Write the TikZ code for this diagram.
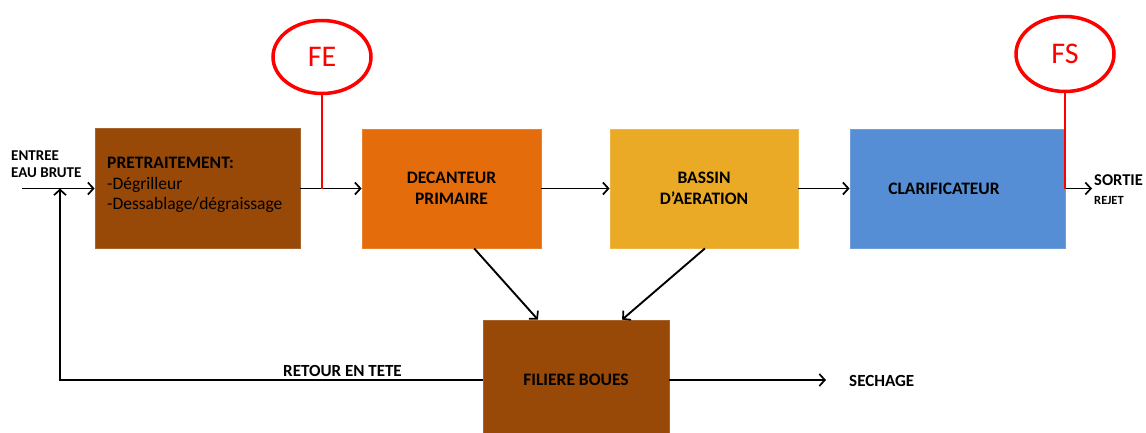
\documentclass[tikz,border=0pt]{standalone}
\usepackage{fontspec}
\setmainfont{Carlito}
\usetikzlibrary{arrows.meta,shapes.geometric,calc}
\definecolor{cbrown}{HTML}{984807}
\definecolor{corange}{HTML}{E46C0A}
\definecolor{cgold}{HTML}{EAAA26}
\definecolor{cblue}{HTML}{558ED5}
\definecolor{cred}{HTML}{FF0000}
\tikzset{
  procbox/.style={draw=#1!85!white, fill=#1, line width=0.8pt, inner sep=0pt, font=\fontsize{17.5}{20.5}\selectfont\bfseries, align=center},
  arr/.style={line width=1.9pt, -{Straight Barb[length=5.5pt,width=12pt,line width=1.7pt]}},
  flow/.style={draw=cred, line width=3.5pt, ellipse, inner sep=0pt, text=cred, font=\fontsize{30}{34}\selectfont},
  redline/.style={draw=cred, line width=2pt},
  lbl/.style={font=\fontsize{17}{20}\selectfont\bfseries, inner sep=0pt},
}
\begin{document}
\begin{tikzpicture}[x=1pt,y=-1pt]
\useasboundingbox (0,0) rectangle (1146,432);
% boxes
\node[procbox=cbrown, minimum width=205pt, minimum height=120pt] (b1) at (197.5,188.5) {};
\node[anchor=west, align=left, font=\fontsize{17.5}{20.5}\selectfont, inner sep=0pt] (t1) at (107,185)
  {\textbf{PRETRAITEMENT:}\\-Dégrilleur\\-Dessablage/dégraissage};
\node[procbox=corange, minimum width=179pt, minimum height=119pt] (b2) at (451.5,188.5) {DECANTEUR\\PRIMAIRE};
\node[procbox=cgold, minimum width=188pt, minimum height=119pt] (b3) at (704,188.5) {BASSIN\\D’AERATION};
\node[procbox=cblue, minimum width=215pt, minimum height=119pt] (b4) at (957.5,188.5) {\hspace*{-27pt}CLARIFICATEUR};
\node[procbox=cbrown, minimum width=186pt, minimum height=120pt] (b5) at (576,380) {FILIERE BOUES};
% flow meters
\node[flow, minimum width=98pt, minimum height=73pt] (fe) at (322,57) {FE};
\node[flow, minimum width=98pt, minimum height=75pt] (fs) at (1065,54) {FS};
% labels
\node[lbl, anchor=west, align=left, font=\fontsize{15}{17}\selectfont\bfseries] (entree) at (11,164.5) {ENTREE\\EAU BRUTE};
\node[lbl, anchor=west, align=left, font=\fontsize{16.5}{19}\selectfont\bfseries] (sortie) at (1094,190) {SORTIE\\{\fontsize{12.5}{14}\selectfont REJET}};
\node[lbl, anchor=west] (retour) at (283,371) {RETOUR EN TETE};
\node[lbl, anchor=west] (sechage) at (849,381) {SECHAGE};
% coordinates
\coordinate (in) at (22,188.5);
\coordinate (out) at (1092,188.5);
\coordinate (ret) at (60,380);
\coordinate (sec) at (826,380);
% main flow
\draw[arr] (in) -- (b1.west);
\draw[arr] (b1.east) -- (b2.west);
\draw[arr] (b2.east) -- (b3.west);
\draw[arr] (b3.east) -- (b4.west);
\draw[arr] (b4.east) -- (out);
% measurement taps
\draw[redline] (fe.south) -- (fe.south |- b1.east);
\draw[redline] (fs.south) -- (fs.south |- b4.east);
% sludge
\draw[arr] ($(b2.south west)!0.626!(b2.south east)$) -- ($(b5.north west)!0.296!(b5.north east)$);
\draw[arr] ($(b3.south west)!0.505!(b3.south east)$) -- ($(b5.north west)!0.747!(b5.north east)$);
\draw[arr] (b5.west |- ret) -- (ret) -- (ret |- in);
\draw[arr] (b5.east |- sec) -- (sec);
\end{tikzpicture}
\end{document}
